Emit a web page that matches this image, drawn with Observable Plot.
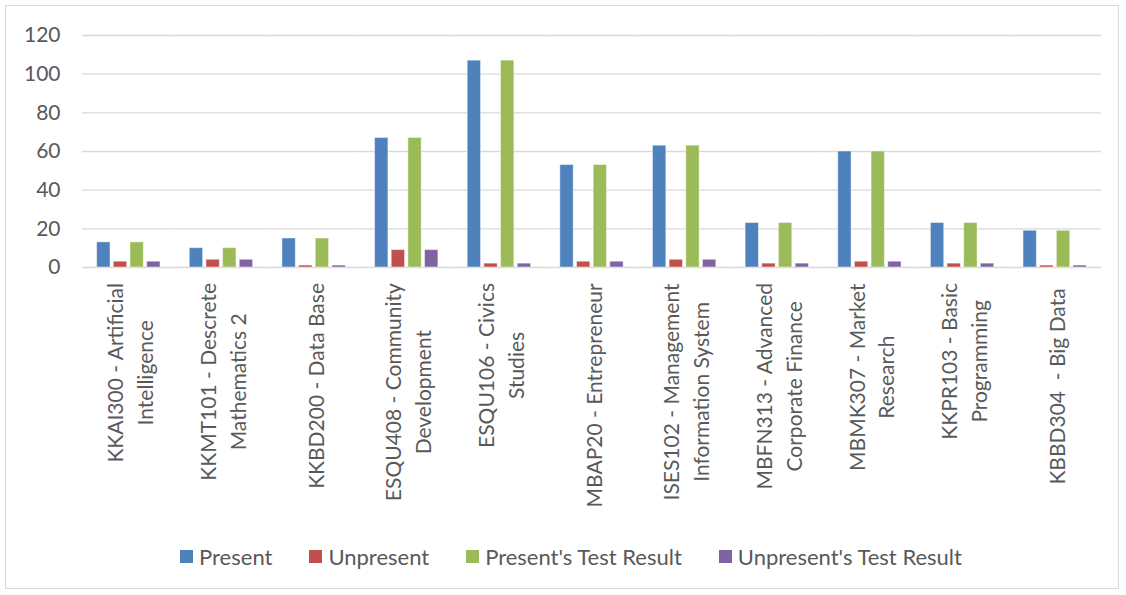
<!DOCTYPE html>
<html>
<head>
<meta charset="utf-8">
<script src="https://cdn.jsdelivr.net/npm/d3@7"></script>
<script src="https://cdn.jsdelivr.net/npm/@observablehq/plot@0.6"></script>
<style>
  html, body { margin: 0; padding: 0; background: #fff; }
  #wrap { position: relative; width: 1126px; height: 595px; overflow: hidden; font-family: Lato, "Open Sans", sans-serif; }
  #frame { position: absolute; left: 5px; top: 5px; width: 1114px; height: 584px; border: 1px solid #d9d9d9; box-sizing: border-box; }
  #chart { position: absolute; left: 0; top: 0; }
  #chart svg text { white-space: pre; }
  #legend { position: absolute; left: 0; top: 543px; width: 1126px; box-sizing: border-box; padding-left: 16px; display: flex; justify-content: center; gap: 37px; font-size: 22px; color: #595959; }
  #legend .item { display: flex; align-items: center; }
  #legend .sw { width: 13px; height: 13px; margin-right: 6px; }
</style>
</head>
<body>
<div id="wrap">
  <div id="frame"></div>
  <div id="chart"></div>
  <div id="legend"></div>
</div>
<script>
const courses = [
  "KKAI300 - Artificial\nIntelligence",
  "KKMT101 - Descrete\nMathematics 2",
  "KKBD200 - Data Base",
  "ESQU408 - Community\nDevelopment",
  "ESQU106 - Civics\nStudies",
  "MBAP20 - Entrepreneur",
  "ISES102 - Management\nInformation System",
  "MBFN313 - Advanced\nCorporate Finance",
  "MBMK307 - Market\nResearch",
  "KKPR103 - Basic\nProgramming",
  "KBBD304  - Big Data "
];
const seriesNames = ["Present", "Unpresent", "Present's Test Result", "Unpresent's Test Result"];
const seriesColors = ["#4f81bd", "#c0504d", "#9bbb59", "#8064a2"];
const present = [13, 10, 15, 67, 107, 53, 63, 23, 60, 23, 19];
const unpresent = [3, 4, 1, 9, 2, 3, 4, 2, 3, 2, 1];
const presentTest = [13, 10, 15, 67, 107, 53, 63, 23, 60, 23, 19];
const unpresentTest = [3, 4, 1, 9, 2, 3, 4, 2, 3, 2, 1];
const yTicks = [0, 20, 40, 60, 80, 100, 120];

const seriesValues = [present, unpresent, presentTest, unpresentTest];
const data = [];
courses.forEach((c, i) => {
  seriesNames.forEach((s, k) => data.push({course: c, series: s, value: seriesValues[k][i]}));
});

const chart = Plot.plot({
  width: 1126,
  height: 535,
  marginLeft: 82,
  marginRight: 25,
  marginTop: 35,
  marginBottom: 268,
  style: {fontFamily: "Lato, 'Open Sans', sans-serif", fontSize: "21px", color: "#595959", background: "transparent", overflow: "visible"},
  y: {domain: [0, 120]},
  fx: {domain: courses, padding: 0, round: false},
  x: {domain: seriesNames, paddingInner: 0.2, paddingOuter: 0.88, round: false, axis: null},
  color: {domain: seriesNames, range: seriesColors},
  marks: [
    Plot.gridY(yTicks, {stroke: "#d9d9d9", strokeOpacity: 1, strokeWidth: 1.3}),
    Plot.axisY(yTicks, {tickSize: 0, tickPadding: 22, label: null, fontSize: 21, fill: "#595959"}),
    Plot.axisFx({anchor: "bottom", tickSize: 0, tickPadding: 16, tickRotate: -90, textAnchor: "middle", lineAnchor: "middle", lineHeight: 1.42, label: null, fontSize: 21, fill: "#595959"}),
    Plot.barY(data, {fx: "course", x: "series", y: "value", fill: "series", stroke: "#ffffff", strokeOpacity: 0.45, strokeWidth: 1})
  ]
});
document.getElementById("chart").append(chart);

// Align wrapped rotated category labels like the original: block top just below the axis, lines centred.
const svgRect = chart.getBoundingClientRect();
const labelTop = 283;
chart.querySelectorAll('[aria-label="fx-axis tick label"] text').forEach(t => {
  const r = t.getBoundingClientRect();
  const delta = (svgRect.top + labelTop) - r.top;
  const old = t.getAttribute("transform") || "";
  t.setAttribute("transform", `translate(0,${delta}) ${old}`);
});

const legend = document.getElementById("legend");
seriesNames.forEach((s, k) => {
  const item = document.createElement("div");
  item.className = "item";
  const sw = document.createElement("span");
  sw.className = "sw";
  sw.style.background = seriesColors[k];
  const tx = document.createElement("span");
  tx.textContent = s;
  item.append(sw, tx);
  legend.append(item);
});
</script>
</body>
</html>
